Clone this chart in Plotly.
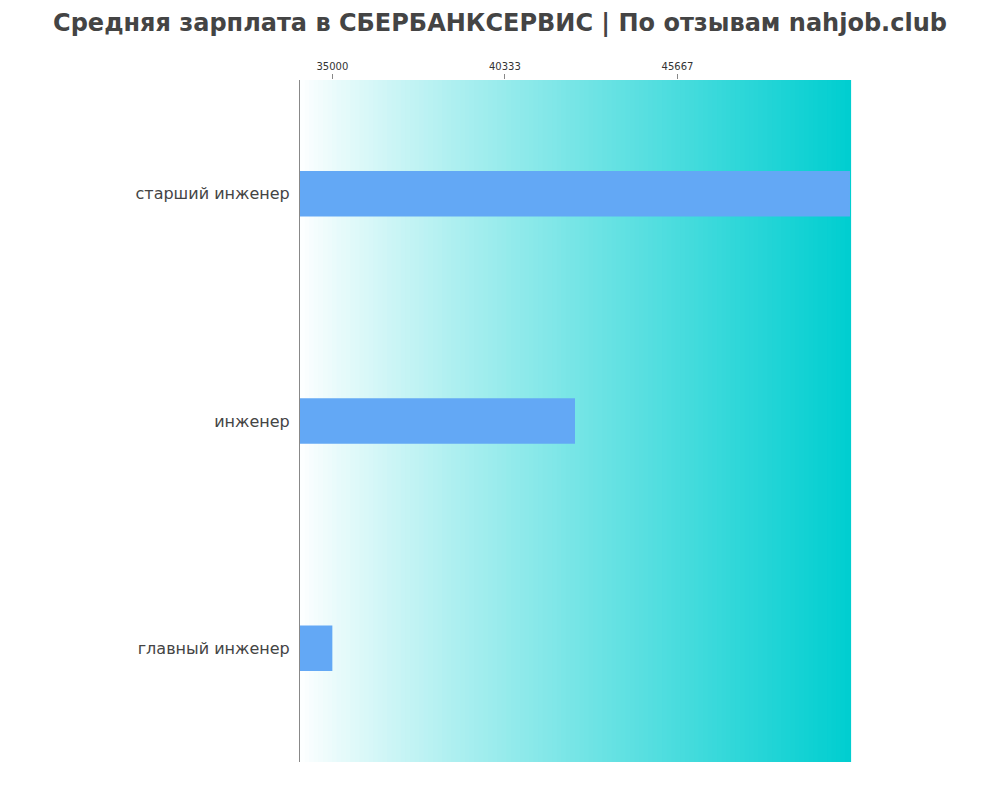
import plotly.graph_objects as go

categories = ["главный инженер", "инженер", "старший инженер"]
values = [35000, 42500, 51000]
tick_vals = [35000, 40333, 45667]
tick_text = ["35000", "40333", "45667"]

fig = go.Figure(go.Bar(x=values, y=categories, orientation="h", width=0.2,
                       marker=dict(color="#63A8F5", line=dict(width=0))))

n = 120
shapes = []
for i in range(n):
    t = (i + 0.5) / n
    t2 = t ** 0.9
    r = round(255 + (0 - 255) * t2)
    g = round(255 + (206 - 255) * t2)
    b = round(255 + (208 - 255) * t2)
    shapes.append(dict(type="rect", xref="x domain", yref="y domain",
                       x0=i / n, x1=(i + 1) / n + 0.002, y0=0, y1=1,
                       fillcolor=f"rgb({r},{g},{b})", line=dict(width=0), layer="below"))

fig.update_layout(
    width=1000, height=800,
    margin=dict(l=292, r=158, t=72, b=46),
    paper_bgcolor="white", plot_bgcolor="white",
    shapes=shapes,
    showlegend=False,
    font=dict(family="DejaVu Sans", color="#444"),
    title=dict(text="<b>Средняя зарплата в СБЕРБАНКСЕРВИС | По отзывам nahjob.club</b>",
               xref="container", x=0.492, xanchor="center", yref="container", y=0.992, yanchor="top",
               font=dict(size=24, color="#444")),
    xaxis=dict(side="top", range=[34000, 51000], tickvals=tick_vals, ticktext=tick_text,
               showgrid=False, zeroline=False, ticks="outside", ticklen=5, tickcolor="#888",
               tickfont=dict(size=10, color="#333"), showline=False),
    yaxis=dict(showline=True, linecolor="#888", linewidth=1, ticks="", showgrid=False,
               tickfont=dict(size=16, color="#444"), ticksuffix=" ", ticklabelstandoff=1),
)
fig.write_html("out.html")
